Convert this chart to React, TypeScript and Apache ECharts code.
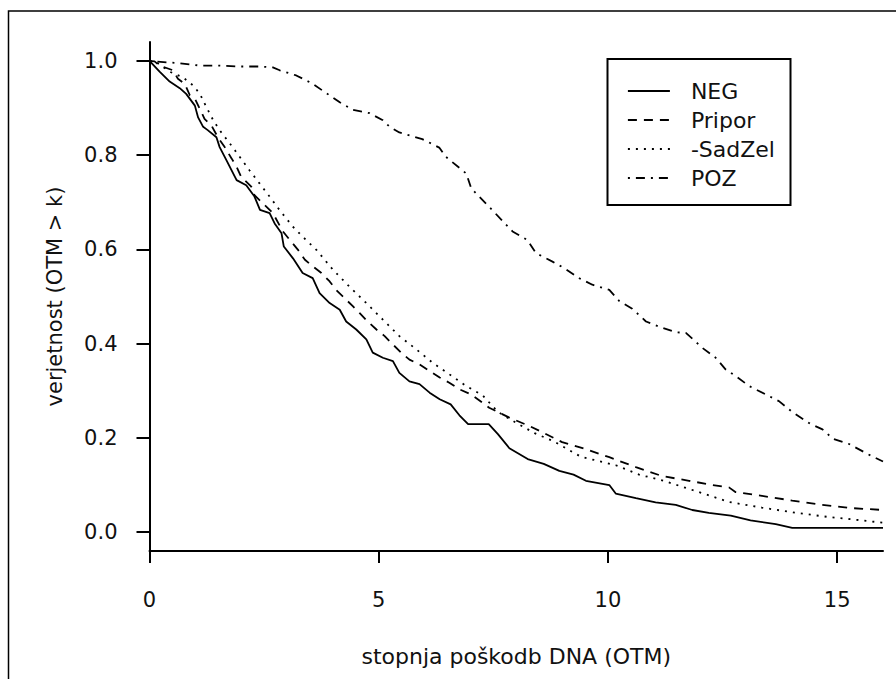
import React, { useEffect, useRef } from "react";
import * as echarts from "echarts";

const seriesNames = ["NEG", "Pripor", "-SadZel", "POZ"];

const negX = [0, 0.22, 0.44, 0.66, 0.8, 0.99, 1.06, 1.17, 1.27, 1.46, 1.53, 1.68, 1.9, 2.11, 2.29, 2.41, 2.62, 2.73, 2.88, 2.93, 3.13, 3.34, 3.56, 3.71, 3.93, 4.15, 4.29, 4.51, 4.73, 4.87, 5.09, 5.31, 5.45, 5.67, 5.89, 6.11, 6.33, 6.57, 6.76, 6.95, 7.4, 7.6, 7.85, 8.25, 8.6, 8.94, 9.25, 9.52, 10.03, 10.17, 10.61, 11.04, 11.48, 11.84, 12.2, 12.68, 13.11, 13.66, 14.02, 16];
const negY = [1, 0.977, 0.956, 0.942, 0.93, 0.905, 0.88, 0.86, 0.853, 0.838, 0.817, 0.789, 0.747, 0.736, 0.712, 0.684, 0.677, 0.655, 0.634, 0.606, 0.581, 0.55, 0.539, 0.507, 0.486, 0.472, 0.447, 0.43, 0.409, 0.381, 0.37, 0.363, 0.338, 0.32, 0.314, 0.296, 0.282, 0.271, 0.248, 0.229, 0.229, 0.208, 0.178, 0.155, 0.145, 0.13, 0.122, 0.109, 0.1, 0.082, 0.072, 0.063, 0.058, 0.047, 0.041, 0.035, 0.025, 0.017, 0.009, 0.009];

const priporX = [0, 0.11, 0.22, 0.51, 0.62, 0.77, 0.88, 0.99, 1.2, 1.35, 1.49, 1.64, 1.79, 1.9, 2.0, 2.22, 2.29, 2.47, 2.69, 2.91, 3.06, 3.24, 3.39, 3.56, 3.75, 3.93, 4.07, 4.25, 4.44, 4.58, 4.76, 4.95, 5.13, 5.31, 5.49, 5.67, 5.89, 6.11, 6.33, 6.54, 6.76, 7.02, 7.41, 7.85, 8.29, 8.57, 9.0, 9.52, 10.03, 10.61, 11.18, 11.77, 12.28, 12.64, 12.78, 13.36, 14.02, 14.67, 15.32, 16];
const priporY = [1, 0.999, 0.99, 0.98, 0.962, 0.951, 0.927, 0.92, 0.877, 0.863, 0.838, 0.817, 0.793, 0.775, 0.754, 0.733, 0.715, 0.698, 0.677, 0.638, 0.62, 0.599, 0.578, 0.564, 0.55, 0.532, 0.514, 0.497, 0.479, 0.465, 0.447, 0.43, 0.416, 0.398, 0.381, 0.366, 0.356, 0.342, 0.328, 0.317, 0.303, 0.292, 0.264, 0.243, 0.225, 0.212, 0.191, 0.176, 0.159, 0.138, 0.119, 0.109, 0.1, 0.095, 0.085, 0.077, 0.067, 0.058, 0.051, 0.047];

const sadZelX = [0, 0.15, 0.44, 0.73, 0.95, 1.1, 1.24, 1.39, 1.53, 1.75, 1.97, 2.18, 2.4, 2.62, 2.84, 3.13, 3.34, 3.64, 4.0, 4.36, 4.73, 5.09, 5.45, 5.82, 6.18, 6.54, 6.91, 7.27, 7.6, 8.0, 8.4, 8.81, 9.41, 10.17, 10.68, 11.18, 11.92, 12.64, 13.36, 14.1, 14.82, 15.54, 16];
const sadZelY = [1, 0.997, 0.977, 0.965, 0.948, 0.93, 0.902, 0.874, 0.853, 0.825, 0.796, 0.768, 0.74, 0.712, 0.683, 0.648, 0.627, 0.599, 0.557, 0.521, 0.486, 0.451, 0.416, 0.388, 0.359, 0.335, 0.31, 0.29, 0.255, 0.232, 0.21, 0.193, 0.16, 0.142, 0.122, 0.11, 0.087, 0.064, 0.052, 0.041, 0.032, 0.025, 0.02];

const pozX = [0, 0.07, 0.66, 1.1, 1.53, 1.97, 2.41, 2.69, 2.84, 3.2, 3.53, 3.82, 4.15, 4.44, 4.8, 5.09, 5.24, 5.45, 5.95, 6.32, 6.47, 6.91, 7.02, 7.48, 7.92, 8.24, 8.43, 8.79, 9.05, 9.37, 9.66, 10.03, 10.25, 10.53, 10.83, 11.12, 11.48, 11.7, 12.06, 12.35, 12.57, 12.79, 13.08, 13.73, 14.02, 14.41, 14.68, 14.91, 15.26, 15.66, 16];
const pozY = [1, 0.999, 0.995, 0.99, 0.99, 0.988, 0.988, 0.986, 0.98, 0.969, 0.953, 0.934, 0.912, 0.896, 0.889, 0.874, 0.86, 0.848, 0.834, 0.816, 0.796, 0.761, 0.729, 0.683, 0.638, 0.62, 0.592, 0.574, 0.56, 0.539, 0.525, 0.514, 0.49, 0.474, 0.447, 0.436, 0.424, 0.423, 0.391, 0.37, 0.345, 0.331, 0.31, 0.278, 0.255, 0.23, 0.218, 0.198, 0.187, 0.166, 0.15];

const yTicks = [0, 0.2, 0.4, 0.6, 0.8, 1.0];
const xTicks = [0, 5, 10, 15];

const FONT = "DejaVu Sans";
const TXT = "#111";

const zip = (xs: number[], ys: number[]) => xs.map((x, i) => [x, ys[i]]);

export default function App() {
  const ref = useRef<HTMLDivElement>(null);
  useEffect(() => {
    if (!ref.current) return;
    const chart = echarts.init(ref.current, null, { renderer: "svg" });
    const dashes: any[] = ["solid", [9, 7], [2, 6], [2, 6, 9, 6]];
    const datas = [zip(negX, negY), zip(priporX, priporY), zip(sadZelX, sadZelY), zip(pozX, pozY)];
    chart.setOption({
      animation: false,
      backgroundColor: "#fff",
      grid: { left: 149.5, right: 13, top: 42, bottom: 128, containLabel: false },
      xAxis: {
        type: "value",
        min: 0,
        max: 16,
        name: "stopnja poškodb DNA (OTM)",
        nameLocation: "middle",
        nameGap: 94,
        nameTextStyle: { fontFamily: FONT, fontSize: 22, color: TXT },
        axisLine: { show: true, onZero: false, lineStyle: { color: "#000", width: 2 } },
        axisTick: { show: true, length: 12, customValues: xTicks, lineStyle: { color: "#000", width: 2 } },
        axisLabel: { customValues: xTicks, margin: 38, fontFamily: FONT, fontSize: 21, color: TXT },
        splitLine: { show: false },
      },
      yAxis: {
        type: "value",
        min: -0.04,
        max: 1.04,
        name: "verjetnost (OTM > k)",
        nameLocation: "middle",
        nameRotate: 90,
        nameGap: 84,
        nameTextStyle: { fontFamily: FONT, fontSize: 21, color: TXT },
        axisLine: { show: true, onZero: false, lineStyle: { color: "#000", width: 2 } },
        axisTick: { show: true, length: 13, customValues: yTicks, lineStyle: { color: "#000", width: 2 } },
        axisLabel: {
          customValues: yTicks,
          margin: 32,
          fontFamily: FONT,
          fontSize: 21,
          color: TXT,
          formatter: (v: number) => v.toFixed(1),
        },
        splitLine: { show: false },
      },
      legend: {
        show: true,
        orient: "vertical",
        left: 627,
        top: 80,
        padding: 0,
        itemWidth: 42,
        itemHeight: 22,
        itemGap: 7,
        selectedMode: false,
        itemStyle: { opacity: 0, borderWidth: 0 },
        lineStyle: { opacity: 1, width: 1.8 },
        textStyle: { fontFamily: FONT, fontSize: 22, color: TXT, padding: [0, 0, 0, 16] },
        data: seriesNames,
      },
      graphic: [
        {
          type: "rect",
          shape: { x: 8.5, y: 11, width: 1000, height: 1000 },
          style: { fill: "none", stroke: "#000", lineWidth: 1.5 },
          silent: true,
        },
        {
          type: "rect",
          shape: { x: 607.5, y: 59, width: 183, height: 146 },
          style: { fill: "none", stroke: "#000", lineWidth: 2 },
          silent: true,
        },
      ],
      series: seriesNames.map((name, i) => ({
        name,
        type: "line",
        data: datas[i],
        symbol: "none",
        showSymbol: false,
        lineStyle: { color: "#000", width: 1.8, type: dashes[i] },
        itemStyle: { color: "#000" },
      })),
    });
    return () => chart.dispose();
  }, []);
  return (
    <div
      ref={ref}
      style={{ position: "absolute", left: 0, top: 0, width: 896, height: 679 }}
    />
  );
}
